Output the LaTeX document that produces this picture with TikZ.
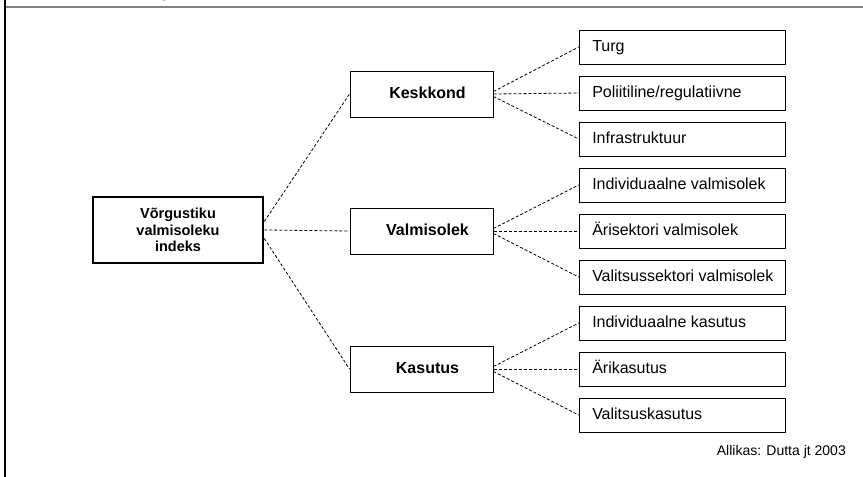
\documentclass[tikz,border=0pt]{standalone}
\usepackage{fontspec}
\setmainfont{Liberation Sans}
\usetikzlibrary{calc}

% pillar text sits flush left at a fixed inset inside its box
\newcommand{\pillartext}[1]{\makebox[180.5pt][l]{#1}}

\tikzset{
  rootbox/.style={draw, line width=2.6pt, minimum width=170pt, minimum height=66pt,
    align=center, inner sep=0pt,
    font=\fontsize{14.5}{16.3}\selectfont\bfseries},
  midbox/.style={draw, line width=1pt, minimum width=143pt, minimum height=46pt,
    inner sep=0pt, text height=11.5pt, text depth=3.4pt,
    font=\fontsize{16}{19}\selectfont\bfseries},
  leafbox/.style={draw, line width=1pt, minimum width=206.5pt, minimum height=34pt,
    inner xsep=13pt, inner ysep=0pt,
    text height=11.5pt, text depth=3.4pt,
    font=\fontsize{16}{19}\selectfont},
  link/.style={line width=0.8pt, dash pattern=on 3pt off 2pt},
  frameline/.style={line width=1.5pt},
  topline/.style={line width=2pt, color=black!50},
}

\begin{document}
\begin{tikzpicture}[x=1pt, y=-1pt]
  \useasboundingbox (0,0) rectangle (863,477);

  % frame edges and the cut-off caption above
  \node[anchor=base, inner sep=0pt, font=\fontsize{16}{19}\selectfont] (cap) at (164,-2.2) {g};
  \draw[topline] (4,6.5) -- (863,6.5);
  \draw[frameline] (5,0) -- (5,477);

  % index
  \node[rootbox] (root) at (178,230) {Võrgustiku\\valmisoleku\\indeks};

  % sub-indices
  \node[midbox] (kesk) at (421.5,94)  {\hspace*{12pt}Keskkond};
  \node[midbox] (valm) at (421.5,231) {\hspace*{12pt}Valmisolek};
  \node[midbox] (kas)  at (421.5,369) {\hspace*{12pt}Kasutus};

  % pillars
  \node[leafbox] (turg) at (682.5,47)  {\pillartext{Turg}};
  \node[leafbox] (poli) at (682.5,93)  {\pillartext{Poliitiline/regulatiivne}};
  \node[leafbox] (infr) at (682.5,139) {\pillartext{Infrastruktuur}};
  \node[leafbox] (indv) at (682.5,185) {\pillartext{Individuaalne valmisolek}};
  \node[leafbox] (ariv) at (682.5,231) {\pillartext{Ärisektori valmisolek}};
  \node[leafbox] (valv) at (682.5,277) {\pillartext{Valitsussektori valmisolek}};
  \node[leafbox] (indk) at (682.5,323) {\pillartext{Individuaalne kasutus}};
  \node[leafbox] (arik) at (682.5,369) {\pillartext{Ärikasutus}};
  \node[leafbox] (valk) at (682.5,415) {\pillartext{Valitsuskasutus}};

  % links from the index
  \draw[link] ($(root.east)+(0,-8.5)$) -- (kesk.west);
  \draw[link] (root.east) -- (valm.west);
  \draw[link] ($(root.east)+(0,8.5)$) -- (kas.west);

  % links from the sub-indices
  \foreach \m/\a/\b/\c in {kesk/turg/poli/infr, valm/indv/ariv/valv, kas/indk/arik/valk}{
    \draw[link] ($(\m.east)+(0,-2.5)$) -- (\a.west);
    \draw[link] (\m.east) -- (\b.west);
    \draw[link] ($(\m.east)+(0,2.5)$) -- (\c.west);
  }

  % source note
  \node[anchor=base east, inner sep=0pt, font=\fontsize{14}{17}\selectfont] (src) at (846,455)
    {Allikas: Dutta jt 2003};
\end{tikzpicture}
\end{document}
